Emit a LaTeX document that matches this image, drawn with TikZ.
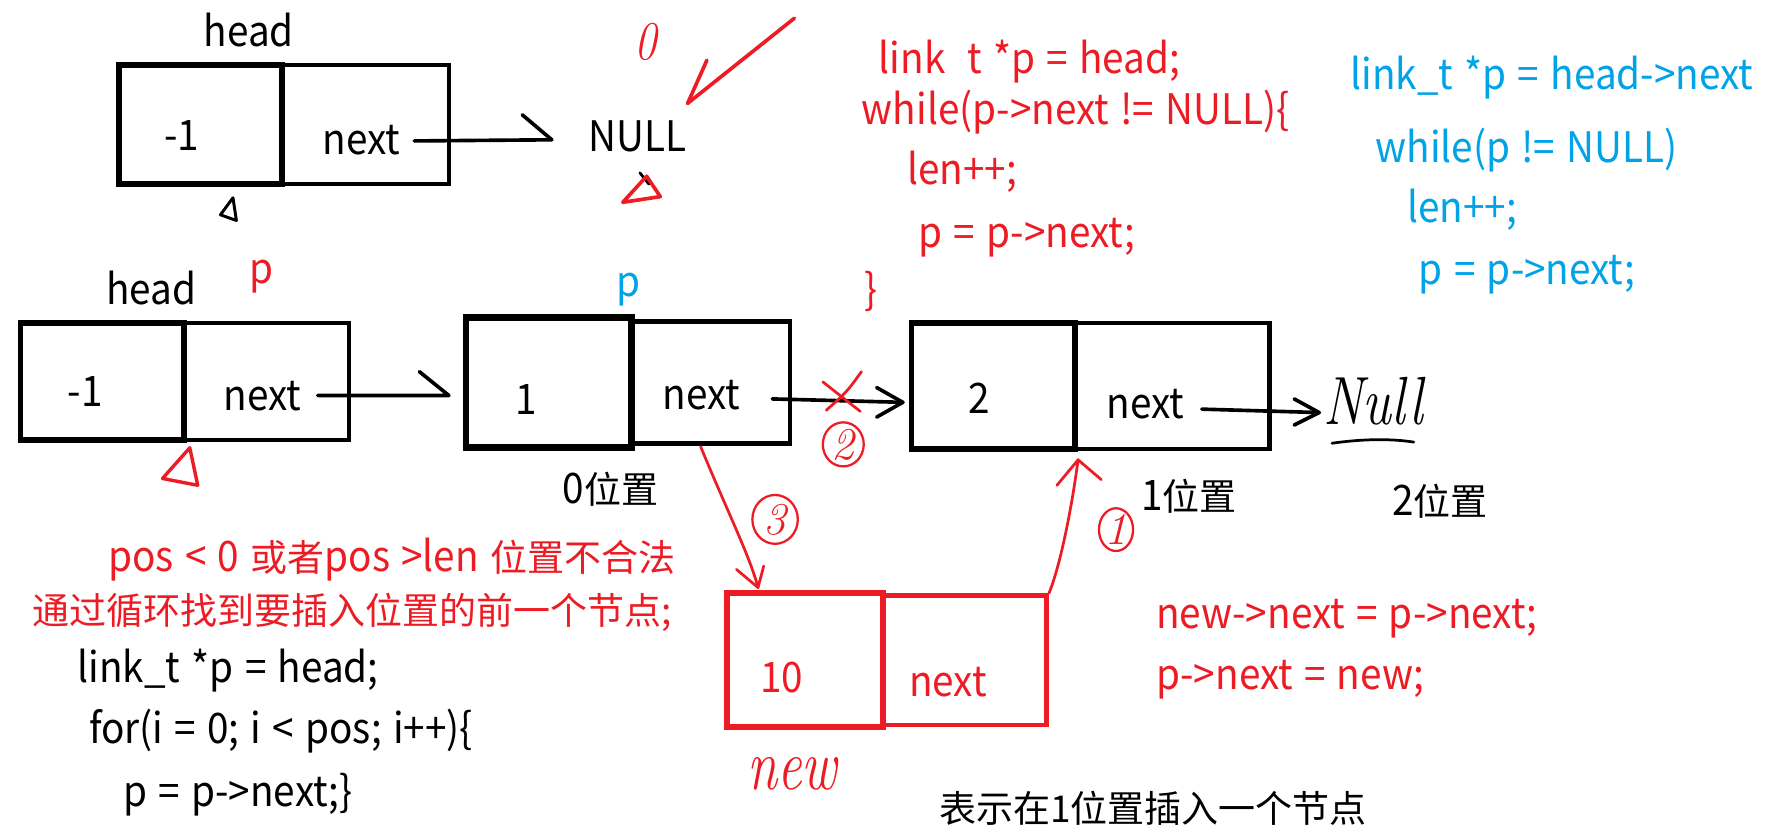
\documentclass[tikz,border=0pt]{standalone}
\usepackage{fontspec}
\setmainfont{Noto Sans CJK SC}[FakeStretch=0.92,WordSpace=1.3]
\newfontfamily\cjk{Noto Sans CJK SC}[Scale=0.88]
\newfontfamily\handfont{Latin Modern Roman}
\usetikzlibrary{fit,calc,shapes.geometric}
\definecolor{pred}{RGB}{237,28,36}
\definecolor{pblue}{RGB}{0,162,232}
\newcommand{\codesize}{\fontsize{18.5}{22}\selectfont}
\newcommand{\handtxt}[3]{\scalebox{#2}[1]{\handfont\itshape\fontsize{#1}{#1}\selectfont #3}}
\tikzset{
  txt/.style={inner sep=0pt,text height=1.4ex,text depth=0pt,yshift=-2.5pt,font=\codesize},
  code/.style={txt,anchor=west},
  cell/.style={draw,line width=2pt,inner sep=0pt},
  thickcell/.style={cell,line width=2.6pt},
  link/.style={line width=1.6pt,line cap=round,line join=round},
  redlink/.style={draw=pred,line width=1.2pt,line cap=round,line join=round},
  num/.style={ellipse,draw=pred,line width=1pt,inner sep=0pt,text=pred,font=\handfont\itshape\fontsize{20}{20}\selectfont}
}
\begin{document}
\begin{tikzpicture}[x=0.5pt,y=-0.5pt]
\useasboundingbox (0,0) rectangle (1568,736);
\node[txt] (head1) at (219,28) {head};
\node[thickcell,fit={(105,57) (248,162)}] (h1v) {};
\node[cell,fit={(248,57) (395,162)}] (h1n) {};
\node[txt] (v1) at (160,120) {-1};
\node[txt] (nx1) at (318,123) {next};
\node[txt] (null1) at (561,121) {NULL};
\draw[link] ($(nx1.east)+(12,-4)$) -- ($(null1.west)+(-32,-3)$) coordinate (t1) -- ++(-26,-22);
\draw[link,line width=1.3pt] (205,174) -- (194,189) -- (208,194) -- cycle;
\node[inner sep=0pt,text=pred] (zero) at (568,37) {\handtxt{24}{0.82}{0}};
\coordinate (ck) at (605,91);
\draw[redlink,line width=1.6pt] (699,16) -- (ck) -- (622,53);
\draw[link,line width=1.2pt] (563,152) -- (571,162);
\draw[redlink,line width=1.6pt] (569,155) -- (548,178) -- (581,173) -- cycle;
\node[code,text=pred] (r1) at (773,52) {link\phantom{\_}t *p = head;};
\node[code,text=pred] (r2) at (758,97) {while(p->next != NULL)\{};
\node[code,text=pred] (r3) at (798,150) {len++;};
\node[code,text=pred] (r4) at (808,205) {p = p->next;};
\node[code,text=pred] (r5) at (760,255) {\}};
\node[code,text=pblue] (b1) at (1188,66) {link\_t *p = head->next};
\node[code,text=pblue] (b2) at (1210,130) {while(p != NULL)};
\node[code,text=pblue] (b3) at (1238,183) {len++;};
\node[code,text=pblue] (b4) at (1248,238) {p = p->next;};
\node[txt] (head2) at (133,255) {head};
\node[txt,text=pred] (pr) at (230,237) {p};
\node[txt,text=pblue] (pb) at (553,248) {p};
\node[thickcell,fit={(18,284) (162,387)}] (h2v) {};
\node[cell,fit={(162,284) (307,387)}] (h2n) {};
\node[txt] (v2) at (75,345) {-1};
\node[txt] (nx2) at (231,349) {next};
\draw[redlink,line width=1.5pt] (167,394) -- (143,421) -- (174,427) -- cycle;
\node[thickcell,line width=3pt,fit={(410,279) (556,394)}] (n1v) {};
\node[cell,fit={(556,283) (695,390)}] (n1n) {};
\node[txt] (v3) at (463,352) {1};
\node[txt] (nx3) at (617,348) {next};
\node[thickcell,fit={(802,284) (946,395)}] (n2v) {};
\node[cell,fit={(946,284) (1117,395)}] (n2n) {};
\node[txt] (v4) at (862,351) {2};
\node[txt] (nx4) at (1008,356) {next};
\node[inner sep=0pt] (null2) at (1208,353) {\handtxt{30}{0.8}{Null}};
\draw[link,line width=1.2pt] (1172,390) .. controls (1200,386) and (1225,386) .. (1244,389);
\draw[link] ($(nx2.east)+(14,-6)$) -- ($(nx2.east -| n1v.west)+(-12,-6)$) coordinate (t2) -- ++(-26,-21);
\draw[link] ($(nx3.east)+(28,-2)$) -- ($(nx3.east -| n2v.west)+(-5,1)$) coordinate (t3);
\draw[link] ($(t3)+(-23,-13)$) -- (t3) -- ++(-23,13);
\draw[link] ($(nx4.east)+(15,-1)$) -- ($(nx4.east -| null2.west)+(-3,2)$) coordinate (t4);
\draw[link] ($(t4)+(-22,-12)$) -- (t4) -- ++(-22,11);
\draw[redlink] (758,327) .. controls (745,345) .. (727,361);
\draw[redlink] (724,336) -- (757,362);
\node[num,minimum width=18pt,minimum height=14.5pt] (st2) at (742,391) {2};
\node[txt] (pos0) at (537,430) {0{\cjk 位置}};
\node[txt] (pos1) at (1046,437) {1{\cjk 位置}};
\node[txt] (pos2) at (1267,441) {2{\cjk 位置}};
\node[thickcell,draw=pred,fit={(640,522) (777,640)}] (nv) {};
\node[cell,draw=pred,fit={(777,524) (921,638)}] (nn) {};
\node[txt,text=pred] (v5) at (688,597) {10};
\node[txt,text=pred] (nx5) at (834,600) {next};
\node[inner sep=0pt,text=pred] (newlbl) at (697,681) {\handtxt{32}{0.75}{new}};
\draw[redlink] ($(n1n.south)+(-9,1)$) .. controls (640,450) and (660,490) .. (667,517) coordinate (a3);
\draw[redlink] (648,501) -- (a3) -- (672,498);
\node[num,minimum width=20pt,minimum height=21.5pt] (st3) at (682,457) {3};
\draw[redlink] (nn.north east) .. controls (934,495) and (944,440) .. ($(n2v.south east)+(0,7)$) coordinate (a1);
\draw[redlink] (930,427) -- (a1) -- (969,422);
\node[num,minimum width=15pt,minimum height=14.5pt] (st1) at (982,466) {1};
\node[code,text=pred] (cond) at (95,490) {pos < 0 {\cjk 或者}pos >len {\cjk 位置不合法}};
\node[code,text=pred] (find) at (28,537) {\cjk 通过循环找到要插入位置的前一个节点;};
\node[code] (c1) at (68,588) {link\_t *p = head;};
\node[code] (c2) at (78,642) {for(i = 0; i < pos; i++)\{};
\node[code] (c3) at (108,697) {p = p->next;\}};
\node[code,text=pred] (s1) at (1017,540) {new->next = p->next;};
\node[code,text=pred] (s2) at (1017,594) {p->next = new;};
\node[code] (note) at (826,711) {\cjk 表示在1位置插入一个节点};
\end{tikzpicture}
\end{document}
